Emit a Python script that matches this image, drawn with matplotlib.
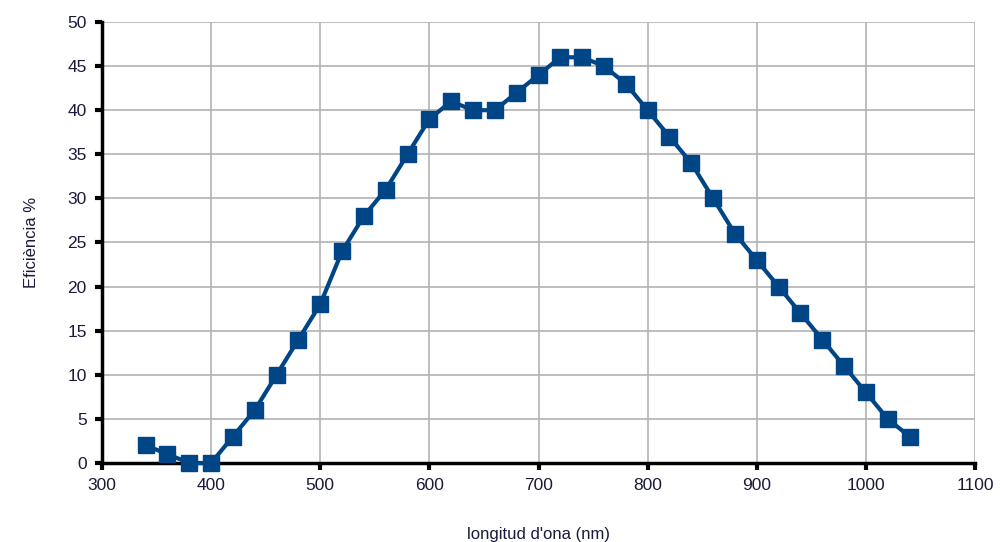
import matplotlib
matplotlib.use("Agg")
import matplotlib.pyplot as plt

wavelength = [340, 360, 380, 400, 420, 440, 460, 480, 500, 520, 540, 560, 580, 600,
              620, 640, 660, 680, 700, 720, 740, 760, 780, 800, 820, 840, 860, 880,
              900, 920, 940, 960, 980, 1000, 1020, 1040]
efficiency = [2, 1, 0, 0, 3, 6, 10, 14, 18, 24, 28, 31, 35, 39,
              41, 40, 40, 42, 44, 46, 46, 45, 43, 40, 37, 34, 30, 26,
              23, 20, 17, 14, 11, 8, 5, 3]
x_ticks = [300, 400, 500, 600, 700, 800, 900, 1000, 1100]
y_ticks = [0, 5, 10, 15, 20, 25, 30, 35, 40, 45, 50]

plt.rcParams['font.family'] = ['Liberation Sans', 'DejaVu Sans']

fig = plt.figure(figsize=(10, 5.42), dpi=100)
ax = fig.add_axes([0.102, 0.1458, 0.873, 0.8136])

ax.plot(wavelength, efficiency, color='#004586', linewidth=3, marker='s',
        markersize=11.5, clip_on=False, zorder=3)

ax.set_xlim(300, 1100)
ax.set_ylim(0, 50)
ax.set_xticks(x_ticks)
ax.set_yticks(y_ticks)
ax.grid(True, color='#b3b3b3', linewidth=1.2)
ax.set_axisbelow(True)

for s in ['top', 'right']:
    ax.spines[s].set_visible(False)
for s in ['left', 'bottom']:
    ax.spines[s].set_linewidth(2.5)
    ax.spines[s].set_color('black')

ax.tick_params(axis='both', direction='out', length=5, width=3, color='black',
               labelsize=12.5, labelcolor='#1a1a3a', pad=6)

ax.set_xlabel("longitud d'ona (nm)", fontsize=12, color='#1a1a3a', labelpad=24)
ax.set_ylabel("Eficiència %", fontsize=12, color='#1a1a3a', labelpad=20)

fig.savefig("out.png", dpi=100)
